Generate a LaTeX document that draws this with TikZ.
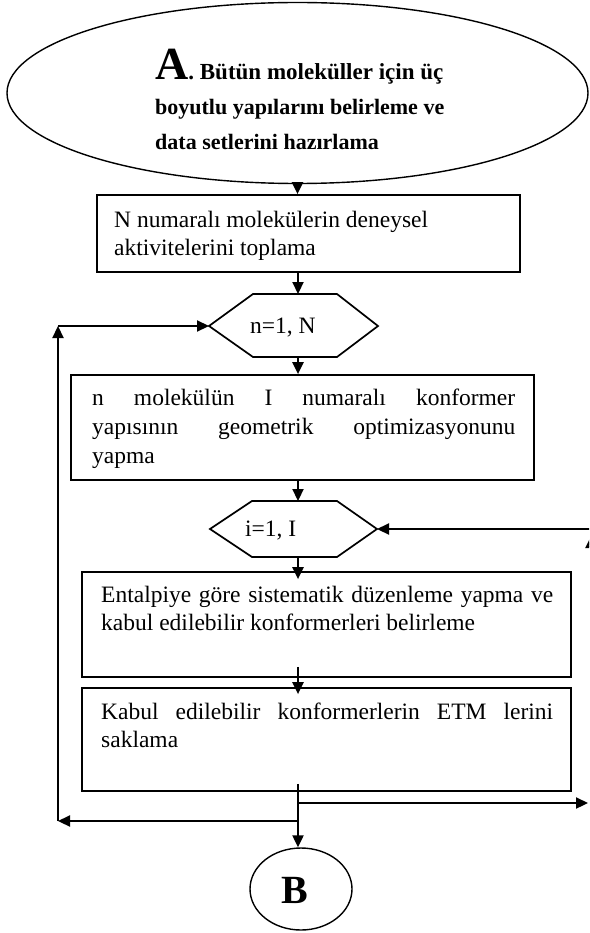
\documentclass[tikz,border=0pt]{standalone}
\usepackage{fontspec}
\setmainfont{Liberation Serif}
\usetikzlibrary{arrows.meta,calc,shapes.geometric}

\tikzset{
  frame/.style={draw, line width=1.7pt, inner sep=0pt},
  conn/.style={line width=2.2pt, -{Triangle[length=12pt,width=11pt]}},
  txt/.style={inner sep=0pt, anchor=base west, font=\fontsize{23.5}{28}\selectfont},
  btxt/.style={inner sep=0pt, anchor=base west, font=\bfseries\fontsize{22}{33}\selectfont},
}

\begin{document}
\begin{tikzpicture}[x=1pt,y=-1pt]
\useasboundingbox (0,0) rectangle (589,933);
\clip (0,0) rectangle (589,933);
\fill[white] (0,0) rectangle (589,933);

% spine of the main flow
\coordinate (sp) at (298,0);

% start ellipse
\node[ellipse, draw, line width=1.4pt, minimum width=581pt, minimum height=181pt, inner sep=0pt] (start) at (297.5,93) {};
\node[btxt] (st1) at (155,80) {{\fontsize{46}{46}\selectfont A}{\fontsize{23}{33}\selectfont. Bütün moleküller için üç}};
\node[btxt] (st2) at (155,115) {boyutlu yapılarını belirleme ve};
\node[btxt] (st3) at (155,150) {data setlerini hazırlama};

% box 1
\node[frame, minimum width=423pt, minimum height=77pt] (b1) at (308.5,233.5) {};
\node[txt] (b1a) at (114,227) {N numaralı molekülerin deneysel};
\node[txt] (b1b) at (114,255) {aktivitelerini toplama};

% loop hexagon n
\coordinate (hnW) at (209,326);
\coordinate (hnE) at (378,326);
\coordinate (hnN) at (298,294);
\coordinate (hnS) at (298,357);
\draw[line width=1.7pt] (hnW) -- (253,294) -- (337,294) -- (hnE) -- (337,357) -- (253,357) -- cycle;
\node[txt] (hnt) at (250,333) {n=1, N};

% box 2
\node[frame, minimum width=463pt, minimum height=105pt] (b2) at (302.5,427.5) {};
\node[txt] (b2a) at (92,405) {\makebox[423pt][s]{n molekülün I numaralı konformer}};
\node[txt] (b2b) at (92,434) {\makebox[423pt][s]{yapısının geometrik optimizasyonunu}};
\node[txt] (b2c) at (92,463) {yapma};

% loop hexagon i
\coordinate (hiW) at (210,529);
\coordinate (hiE) at (377,529);
\coordinate (hiN) at (298,501);
\coordinate (hiS) at (298,557);
\draw[line width=1.7pt] (hiW) -- (252,501) -- (337,501) -- (hiE) -- (337,557) -- (252,557) -- cycle;
\node[txt] (hit) at (245,536) {i=1, I};

% box 3
\node[frame, minimum width=489pt, minimum height=105pt] (b3) at (326.5,624.5) {};
\node[txt] (b3a) at (101,602) {\makebox[452pt][s]{Entalpiye göre sistematik düzenleme yapma ve}};
\node[txt] (b3b) at (101,630) {kabul edilebilir konformerleri belirleme};

% box 4
\node[frame, minimum width=489pt, minimum height=103pt] (b4) at (326.5,739.5) {};
\node[txt] (b4a) at (101,719) {\makebox[452pt][s]{Kabul edilebilir konformerlerin ETM lerini}};
\node[txt] (b4b) at (101,747) {saklama};

% end node
\node[ellipse, draw, line width=1.4pt, minimum width=102pt, minimum height=82pt, inner sep=0pt] (bend) at (301,889) {};
\node[inner sep=0pt, anchor=base, font=\bfseries\fontsize{40}{40}\selectfont] (bl) at (295,903) {B};

% branch points and corners
\coordinate (jR) at (298,803);
\coordinate (jL) at (298,821);
\coordinate (outR) at (588,803);
\coordinate (cBL) at (58,821);
\coordinate (cTL) at (58,326);
\coordinate (cBR) at (591,803);
\coordinate (cTR) at (591,536);
\coordinate (inR) at (591,529);

% main flow
\draw[conn] (start.south) -- (start.south |- b1.north);
\draw[conn] (b1.south -| sp) -- (hnN);
\draw[conn] (hnS) -- (b2.north -| sp);
\draw[conn] (b2.south -| sp) -- (hiN);
\draw[conn] (hiS) -- ($(b3.north -| sp)+(0,8)$);
\draw[conn] ($(b3.south -| sp)+(0,-11)$) -- ($(b4.north -| sp)+(0,7)$);
\draw[conn] ($(b4.south -| sp)+(0,-8)$) -- (bend.north -| sp);

% outer loop return
\draw[conn] (jL) -- (cBL);
\draw[conn] (cBL) -- (cTL);
\draw[conn] (cTL) -- (hnW);

% inner loop return
\draw[conn] (jR) -- (outR);
\draw[conn] (cBR) -- (cTR);
\draw[conn] (inR) -- (hiE);
\end{tikzpicture}
\end{document}
